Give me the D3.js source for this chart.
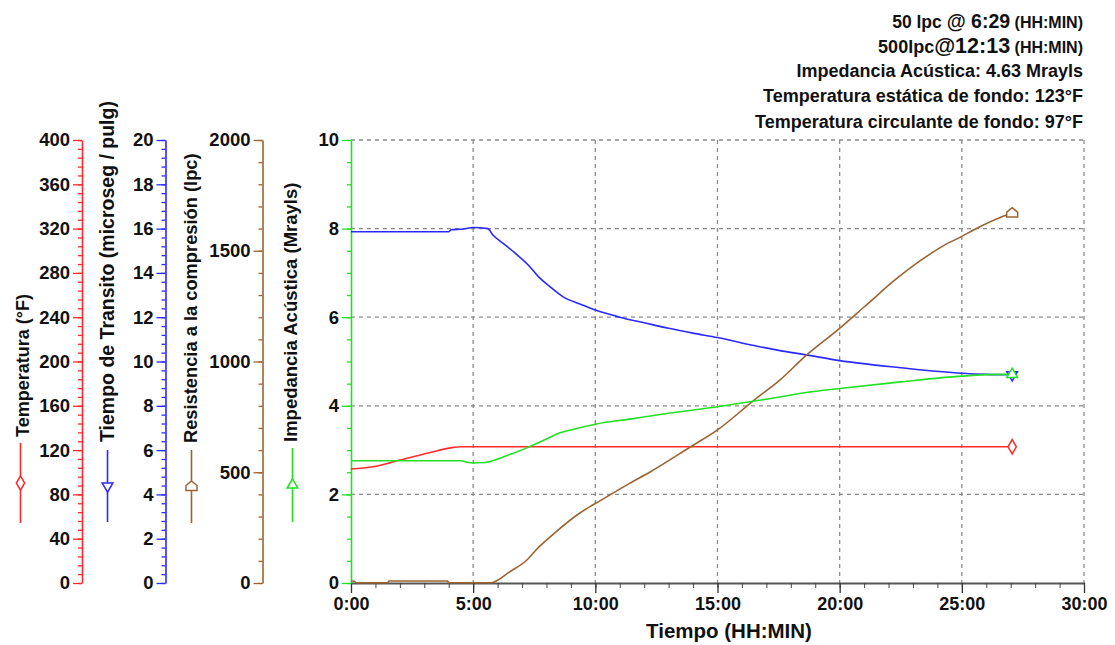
<!DOCTYPE html>
<html>
<head>
<meta charset="utf-8">
<script src="https://cdn.jsdelivr.net/npm/d3@7"></script>
<style>
body { margin: 0; background: #fff; }
svg text { font-family: "Liberation Sans", Arial, sans-serif; font-weight: bold; fill: #111; }
</style>
</head>
<body>
<script>
// time in hours (HH:MIN axis)
var tempTime = [0, 0.9, 2, 3.2, 4.2, 4.5, 10, 15, 20, 25, 27.06];
var tempF = [103, 105, 111, 117.6, 122.5, 123, 123, 123, 123, 123, 123];

var transitTime = [0, 2, 4, 4.1, 4.6, 5.0, 5.6, 5.8, 6.23, 6.6, 7.32, 7.7, 8.14, 8.68, 9.37, 10, 11, 12, 13, 14, 15, 16.5, 17.55, 18.64, 20, 22.5, 25, 26, 27.06];
var transitUs = [15.86, 15.86, 15.86, 15.95, 15.98, 16.05, 16.0, 15.72, 15.33, 15.0, 14.28, 13.8, 13.38, 12.92, 12.6, 12.32, 12.0, 11.75, 11.5, 11.28, 11.08, 10.72, 10.49, 10.3, 10.04, 9.72, 9.47, 9.42, 9.4];

var strengthTime = [0, 0.15, 0.2, 1.5, 1.55, 3.95, 4.0, 5.7, 6.5, 7.2, 7.65, 8.4, 9.25, 9.78, 10.05, 11.4, 12.22, 13.87, 15, 16.5, 17.55, 18.64, 20, 21, 22.35, 23.3, 24.2, 25, 25.5, 26.57, 27.06];
var strengthPsi = [8, 8, 1, 1, 9, 9, 1, 1, 51, 104, 158, 232, 307, 345, 362, 450, 500, 613, 691, 826, 916, 1029, 1150, 1246, 1376, 1455, 1520, 1565, 1595, 1650, 1670];

var impTime = [0, 4.5, 4.8, 5.0, 5.5, 5.8, 6.5, 7.2, 8.0, 8.55, 9.2, 10.05, 11.4, 13, 15, 17.55, 18.64, 20, 22.5, 25, 26.57, 27.06];
var impMrayl = [2.76, 2.76, 2.72, 2.71, 2.72, 2.76, 2.9, 3.05, 3.25, 3.39, 3.48, 3.59, 3.7, 3.83, 3.98, 4.2, 4.3, 4.39, 4.54, 4.67, 4.71, 4.71];

var xTicks = [0, 5, 10, 15, 20, 25, 30];

var red = "#ff2a2a", blue = "#2a2aff", brown = "#9a6432", green = "#22e022";

var svg = d3.select("body").append("svg")
    .attr("width", 1115)
    .attr("height", 645);

var plotTop = 140, plotBottom = 583;
var x = d3.scaleLinear().domain([0, 30]).range([351, 1084]);
var yTemp = d3.scaleLinear().domain([0, 400]).range([plotBottom, plotTop]);
var yTransit = d3.scaleLinear().domain([0, 20]).range([plotBottom, plotTop]);
var yStrength = d3.scaleLinear().domain([0, 2000]).range([plotBottom, plotTop]);
var yImp = d3.scaleLinear().domain([0, 10]).range([plotBottom, plotTop]);

// grid
var grid = svg.append("g").attr("stroke", "#8c8c8c").attr("stroke-width", 1.3).attr("stroke-dasharray", "4,4");
grid.selectAll(".vg").data(xTicks.slice(1)).enter().append("line")
    .attr("x1", function(d){ return x(d); }).attr("x2", function(d){ return x(d); })
    .attr("y1", plotTop).attr("y2", plotBottom);
grid.selectAll(".hg").data([2, 4, 6, 8, 10]).enter().append("line")
    .attr("x1", x(0)).attr("x2", x(30))
    .attr("y1", function(d){ return yImp(d); }).attr("y2", function(d){ return yImp(d); });

// x axis
var xMinor = svg.append("g").attr("transform", "translate(0," + plotBottom + ")")
    .call(d3.axisBottom(x).tickValues(d3.range(0, 31, 1)).tickSize(5).tickSizeOuter(0).tickFormat(""));
xMinor.selectAll("line").attr("stroke", "#444");
xMinor.select(".domain").attr("stroke", "#555").attr("stroke-width", 2);
var xMajor = svg.append("g").attr("transform", "translate(0," + plotBottom + ")")
    .call(d3.axisBottom(x).tickValues(xTicks).tickSize(10).tickPadding(4).tickSizeOuter(0)
        .tickFormat(function(d){ return d + ":00"; }));
xMajor.select(".domain").remove();
xMajor.selectAll("line").attr("stroke", "#333").attr("stroke-width", 1.3);
xMajor.selectAll("text").attr("font-size", 18).attr("font-family", null).attr("fill", "#111");

svg.append("text")
    .attr("x", 729).attr("y", 638)
    .attr("text-anchor", "middle")
    .attr("font-size", 20.5)
    .text("Tiempo (HH:MIN)");

// left axes
function yAxis(xPos, scale, majors, minors, color) {
    var g1 = svg.append("g").attr("transform", "translate(" + xPos + ",0)")
        .call(d3.axisLeft(scale).tickValues(minors).tickSize(4).tickSizeOuter(0).tickFormat(""));
    g1.selectAll("line").attr("stroke", color).attr("stroke-width", 1.3);
    g1.select(".domain").attr("stroke", color).attr("stroke-width", 1.6);
    var g2 = svg.append("g").attr("transform", "translate(" + xPos + ",0)")
        .call(d3.axisLeft(scale).tickValues(majors).tickSize(9).tickPadding(3).tickSizeOuter(0).tickFormat(d3.format("d")));
    g2.select(".domain").remove();
    g2.selectAll("line").attr("stroke", color).attr("stroke-width", 1.3);
    g2.selectAll("text").attr("font-size", 18.5).attr("font-family", null).attr("fill", "#111");
}
yAxis(82, yTemp, d3.range(0, 401, 40), d3.range(0, 401, 8), red);
yAxis(165.5, yTransit, d3.range(0, 21, 2), d3.range(0, 20.01, 0.4), blue);
yAxis(262.5, yStrength, d3.range(0, 2001, 500), d3.range(0, 2001, 100), brown);
yAxis(351, yImp, d3.range(0, 11, 2), d3.range(0, 10.01, 0.5), green);

// axis titles with legend keys
var houseSym = { draw: function(ctx, size) {
    ctx.moveTo(0, -5.5); ctx.lineTo(5.5, -1); ctx.lineTo(5.5, 4); ctx.lineTo(-5.5, 4); ctx.lineTo(-5.5, -1); ctx.closePath();
} };
var series = [
    { title: "Temperatura (°F)", fs: 18, color: red, tx: 29, ty: 437, lx: 20.5, l1: 443, l2: 523, sym: d3.symbolDiamond, size: 60, rot: 0, scale: yTemp, t: tempTime, v: tempF },
    { title: "Tiempo de Transito (microseg / pulg)", fs: 19.5, color: blue, tx: 114, ty: 442, lx: 107.5, l1: 450, l2: 522, sym: d3.symbolTriangle, size: 50, rot: 180, scale: yTransit, t: transitTime, v: transitUs },
    { title: "Resistencia a la compresión (lpc)", fs: 18.3, color: brown, tx: 197, ty: 443, lx: 191.5, l1: 450, l2: 523, sym: houseSym, size: 64, rot: 0, scale: yStrength, t: strengthTime, v: strengthPsi },
    { title: "Impedancia Acústica (Mrayls)", fs: 18.5, color: green, tx: 297, ty: 442, lx: 292.5, l1: 448, l2: 522, sym: d3.symbolTriangle, size: 50, rot: 0, scale: yImp, t: impTime, v: impMrayl }
];

series.forEach(function(s){
    svg.append("text")
        .attr("transform", "translate(" + s.tx + "," + s.ty + ") rotate(-90)")
        .attr("text-anchor", "start")
        .attr("font-size", s.fs)
        .text(s.title);
    svg.append("line")
        .attr("x1", s.lx).attr("x2", s.lx).attr("y1", s.l1).attr("y2", s.l2)
        .attr("stroke", s.color).attr("stroke-width", 1.6);
    svg.append("path")
        .attr("d", d3.symbol(s.sym, s.size)())
        .attr("transform", "translate(" + s.lx + "," + (s.l1 + s.l2) / 2 + ") rotate(" + s.rot + ")")
        .attr("fill", "#fff").attr("stroke", s.color).attr("stroke-width", 1.5);
});

// curves
series.forEach(function(s){
    var pts = d3.zip(s.t, s.v);
    var line = d3.line()
        .x(function(d){ return x(d[0]); })
        .y(function(d){ return s.scale(d[1]); })
        .curve(d3.curveMonotoneX);
    svg.append("path")
        .datum(pts)
        .attr("d", line)
        .attr("fill", "none")
        .attr("stroke", s.color)
        .attr("stroke-width", 1.6);
    var last = pts[pts.length - 1];
    svg.append("path")
        .attr("d", d3.symbol(s.sym, s.size)())
        .attr("transform", "translate(" + x(last[0]) + "," + s.scale(last[1]) + ") rotate(" + s.rot + ")")
        .attr("fill", "#fff").attr("stroke", s.color).attr("stroke-width", 1.5);
});

// summary text, top right
var info = svg.append("g").attr("text-anchor", "end");
var l1 = info.append("text").attr("x", 1083).attr("y", 28);
l1.append("tspan").attr("font-size", 17.5).text("50 lpc ");
l1.append("tspan").attr("font-size", 19.5).text("@ 6:29");
l1.append("tspan").attr("font-size", 16).text(" (HH:MIN)");
var l2 = info.append("text").attr("x", 1083).attr("y", 53);
l2.append("tspan").attr("font-size", 18).text("500lpc");
l2.append("tspan").attr("font-size", 21.5).text("@12:13");
l2.append("tspan").attr("font-size", 16).text(" (HH:MIN)");
info.append("text").attr("x", 1083).attr("y", 77).attr("font-size", 18).text("Impedancia Acústica: 4.63 Mrayls");
info.append("text").attr("x", 1083).attr("y", 102).attr("font-size", 18).text("Temperatura estática de fondo: 123°F");
info.append("text").attr("x", 1083).attr("y", 128).attr("font-size", 18).text("Temperatura circulante de fondo: 97°F");
</script>
</body>
</html>
